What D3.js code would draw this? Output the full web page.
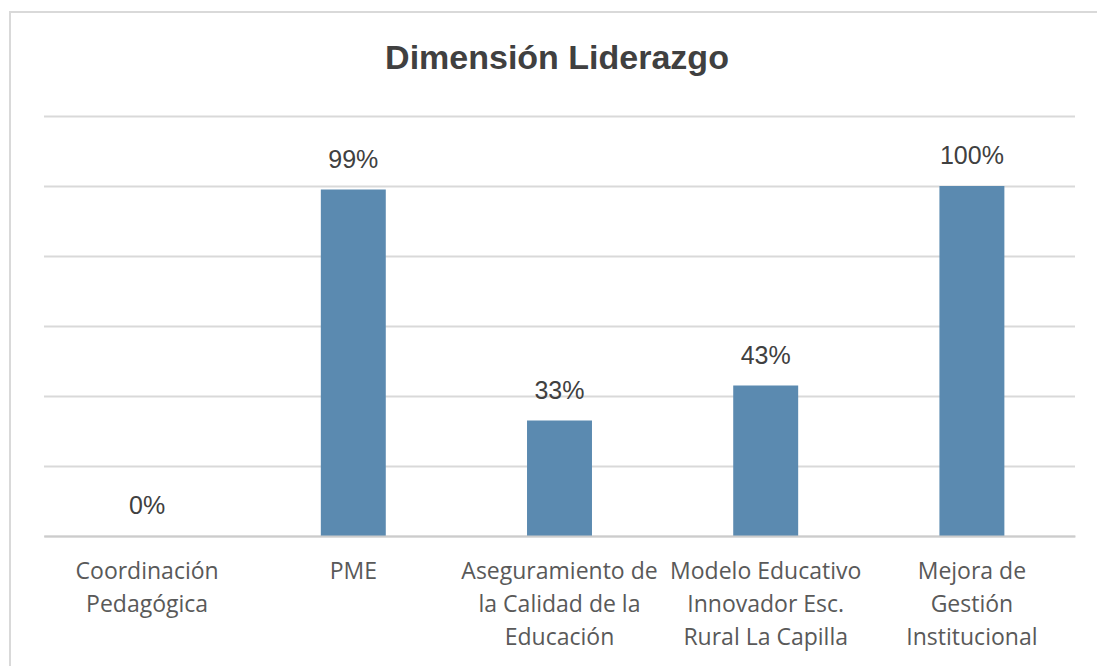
<!DOCTYPE html>
<html><head><meta charset="utf-8">
<script src="https://cdn.jsdelivr.net/npm/d3@7"></script>
<style>body{margin:0;background:#fff;} svg{display:block;}</style>
</head><body>
<svg id="c" width="1097" height="666"></svg>
<script>
const categories = [
  ["Coordinación", "Pedagógica"],
  ["PME"],
  ["Aseguramiento de", "la Calidad de la", "Educación"],
  ["Modelo Educativo", "Innovador Esc.", "Rural La Capilla"],
  ["Mejora de", "Gestión", "Institucional"]
];
const values = [0, 99, 33, 43, 100];
const valueLabels = ["0%", "99%", "33%", "43%", "100%"];
const yTicks = [0, 20, 40, 60, 80, 100, 120];
const title = "Dimensión Liderazgo";

const svg = d3.select("#c");
const W = 1097, H = 666;
const m = {left: 44, right: 22, top: 116, bottom: 130};

// frame
svg.append("path").attr("d", `M10,${H} L10,12 L${W},12`).attr("fill","none").attr("stroke","#d9d9d9").attr("stroke-width",2);

const x = d3.scaleBand().domain(d3.range(categories.length)).range([m.left, W - m.right]).paddingInner(0.685).paddingOuter(0.3425);
const y = d3.scaleLinear().domain([0, 120]).range([H - m.bottom, m.top]);

const grid = svg.append("g").attr("transform", `translate(${m.left},0)`)
  .call(d3.axisLeft(y).tickValues(yTicks).tickSize(-(W - m.left - m.right)).tickFormat(""));
grid.select(".domain").remove();
grid.selectAll(".tick line").attr("stroke", "#d9d9d9").attr("stroke-width", 2);

svg.append("g").selectAll("rect").data(values).join("rect")
  .attr("x", (d,i) => x(i)).attr("width", x.bandwidth())
  .attr("y", d => y(d)).attr("height", d => y(0) - y(d))
  .attr("fill", "#5b8ab0");

svg.append("g").selectAll("text").data(values).join("text")
  .attr("x", (d,i) => x(i) + x.bandwidth()/2).attr("y", d => y(d) - 22)
  .attr("text-anchor","middle").attr("font-family","'Liberation Sans', Arial, sans-serif")
  .attr("font-size", 25).attr("fill","#404040").text((d,i) => valueLabels[i]);

const xa = svg.append("g").attr("transform", `translate(0,${y(0)})`)
  .call(d3.axisBottom(x).tickSize(0).tickFormat(""));
xa.select(".domain").attr("stroke","#cccccc").attr("stroke-width",2);
xa.selectAll(".tick").each(function(i){
  const t = d3.select(this).append("text").attr("text-anchor","middle")
    .attr("font-family","'Open Sans', Lato, sans-serif").attr("font-size",23).attr("fill","#595959");
  categories[i].forEach((line, k) => t.append("tspan").attr("x",0).attr("y", 43 + k*33).text(line));
});

svg.append("text").attr("x", 557).attr("y", 69).attr("text-anchor","middle")
  .attr("font-family","'Liberation Sans', Arial, sans-serif").attr("font-weight","bold")
  .attr("font-size", 34).attr("fill","#404040").text(title);
</script>
</body></html>
